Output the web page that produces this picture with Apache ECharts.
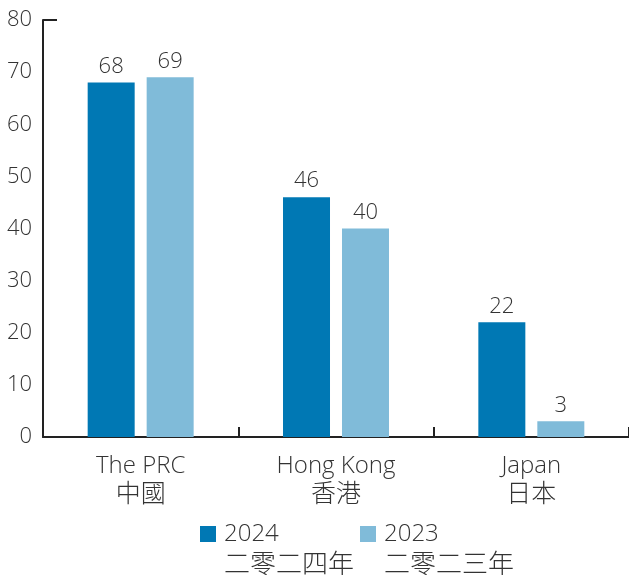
<!DOCTYPE html>
<html>
<head>
<meta charset="utf-8">
<script src="https://cdn.jsdelivr.net/npm/echarts@6/dist/echarts.min.js"></script>
<style>html,body{margin:0;padding:0;background:#fff}#c{width:629px;height:575px}</style>
</head>
<body>
<div id="c"></div>
<script>
const categoriesEn = ['The PRC', 'Hong Kong', 'Japan'];
const categoriesZh = ['中國', '香港', '日本'];
const values2024 = [68, 46, 22];
const values2023 = [69, 40, 3];
const seriesNames = ['2024', '2023'];
const seriesNamesZh = ['二零二四年', '二零二三年'];
const yTicks = { min: 0, max: 80, interval: 10 };

const FONT = '"Open Sans", "Noto Sans", "Noto Sans CJK TC", sans-serif';
const FONT_ZH = '"Noto Sans CJK TC", sans-serif';
const W = 300;
const TXT = '#333333';
const chart = echarts.init(document.getElementById('c'), null, { renderer: 'canvas' });

const legendText = {
  color: TXT,
  rich: {
    s: { fontFamily: FONT, fontSize: 24, lineHeight: 29 },
    a: { fontFamily: FONT, fontWeight: W, fontSize: 24, lineHeight: 29, color: TXT, padding: [0, 0, 0, 3] },
    b: { fontFamily: FONT_ZH, fontWeight: W, fontSize: 26, lineHeight: 29, color: TXT, padding: [0, 0, 0, 3] }
  }
};
function legendFmt(name) {
  const i = seriesNames.indexOf(name);
  return '{s| }\n{a|' + name + '}\n{b|' + seriesNamesZh[i] + '}';
}

chart.setOption({
  backgroundColor: '#ffffff',
  animation: false,
  grid: { left: 43, right: 0, top: 20, bottom: 138, containLabel: false },
  legend: [
    { data: [seriesNames[0]], left: 200, top: 493, padding: 0, itemWidth: 16, itemHeight: 16, itemGap: 0, formatter: legendFmt, textStyle: legendText, icon: 'rect', selectedMode: false },
    { data: [seriesNames[1]], left: 360, top: 493, padding: 0, itemWidth: 16, itemHeight: 16, itemGap: 0, formatter: legendFmt, textStyle: legendText, icon: 'rect', selectedMode: false }
  ],
  xAxis: {
    type: 'category',
    data: categoriesEn,
    axisLine: { lineStyle: { color: '#222', width: 2 } },
    axisTick: { show: true, inside: true, length: 10, lineStyle: { color: '#222', width: 2 } },
    axisLabel: {
      margin: 16,
      formatter: function (v, i) { return '{en|' + v + '}\n{zh|' + categoriesZh[i] + '}'; },
      rich: {
        en: { fontFamily: FONT, fontWeight: W, fontSize: 24, lineHeight: 26, color: TXT },
        zh: { fontFamily: FONT_ZH, fontWeight: W, fontSize: 25, lineHeight: 27, color: TXT }
      }
    },
    splitLine: { show: false }
  },
  yAxis: [
    {
      type: 'value', position: 'left', min: yTicks.min, max: yTicks.max, interval: yTicks.interval,
      axisLine: { show: true, lineStyle: { color: '#222', width: 2 } },
      axisTick: { show: false },
      axisLabel: { margin: 11, fontFamily: FONT, fontWeight: W, fontSize: 22, color: TXT },
      splitLine: { show: false }
    },
    {
      type: 'value', position: 'left', min: yTicks.min, max: yTicks.max, interval: yTicks.max,
      axisLine: { show: false },
      axisTick: { show: true, inside: true, length: 14, lineStyle: { color: '#222', width: 2 } },
      axisLabel: { show: false },
      splitLine: { show: false }
    }
  ],
  series: [
    {
      name: seriesNames[0], type: 'bar', data: values2024, barWidth: 47, barGap: '25.5%',
      itemStyle: { color: '#0078b4' },
      label: { show: true, position: 'top', distance: 5, fontFamily: FONT, fontWeight: W, fontSize: 22, color: TXT }
    },
    {
      name: seriesNames[1], type: 'bar', data: values2023, barWidth: 47, barGap: '25.5%',
      itemStyle: { color: '#80bbd9' },
      label: { show: true, position: 'top', distance: 5, fontFamily: FONT, fontWeight: W, fontSize: 22, color: TXT }
    }
  ]
});
</script>
</body>
</html>
